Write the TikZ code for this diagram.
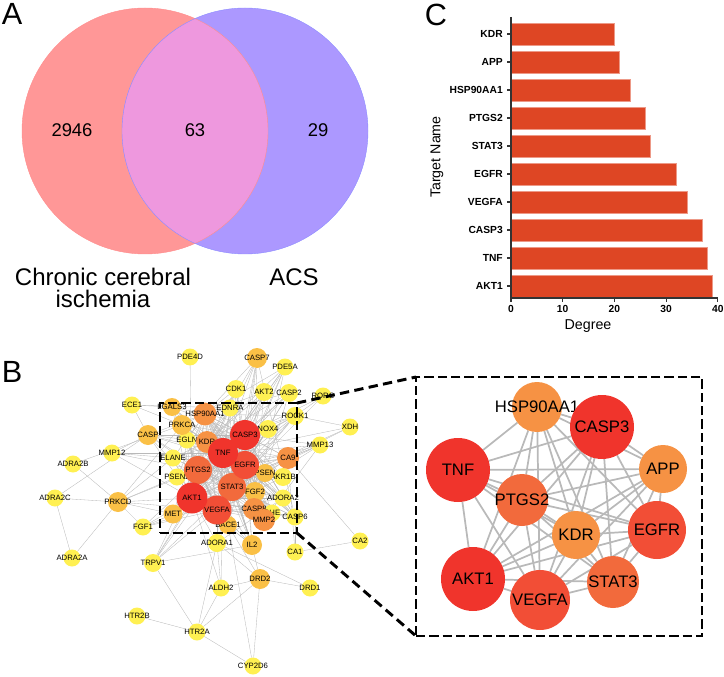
\documentclass[tikz,border=0pt]{standalone}
\usepackage{fontspec}
\setmainfont{Liberation Sans}
\usetikzlibrary{positioning}
\pgfdeclarelayer{edges}
\pgfsetlayers{edges,main}

\definecolor{vennred}{RGB}{255,151,151}
\definecolor{vennblue}{RGB}{172,152,255}
\definecolor{vennmix}{RGB}{238,152,222}
\definecolor{barred}{RGB}{222,70,36}
\definecolor{nred}{RGB}{240,52,44}
\definecolor{nredor}{RGB}{242,78,54}
\definecolor{norred}{RGB}{242,106,60}
\definecolor{norange}{RGB}{246,146,68}
\definecolor{ngold}{RGB}{250,192,70}
\definecolor{nyel}{RGB}{255,240,82}

\tikzset{
  panel/.style={font=\fontsize{23}{26}\selectfont, inner sep=0pt},
  vnum/.style={font=\fontsize{13.8}{16}\selectfont, inner sep=0pt},
  vset/.style={font=\fontsize{18}{16.5}\selectfont, inner sep=0pt, align=center},
  gene/.style={circle, inner sep=0pt, outer sep=0pt, minimum size=#1*0.75pt},
  glabel/.style={font=\fontsize{5.8}{6}\selectfont, inner sep=0pt},
  hublabel/.style={font=\fontsize{12.5}{14}\selectfont, inner sep=0pt},
  ppi/.style={gray!55, line width=0.25pt},
  hubedge/.style={gray!55, line width=1.3pt},
  zoombox/.style={draw, line width=2.2pt, dash pattern=on 7pt off 3pt, inner sep=0pt, outer sep=0pt},
  zoomline/.style={line width=2.2pt, dash pattern=on 7pt off 4pt},
  bar/.style={fill=barred, draw=barred!55!white, line width=0.4pt},
  axis/.style={gray!40!black, line width=0.8pt},
  ticklabel/.style={font=\fontsize{7.7}{9}\selectfont\bfseries, inner sep=0pt},
  axtitle/.style={font=\fontsize{10.7}{12}\selectfont, inner sep=0pt},
}

\begin{document}
\begin{tikzpicture}[x=0.75pt, y=-0.75pt]
  \useasboundingbox (0,0) rectangle (724,677);

  \node[panel] (pa) at (12,14) {A};
  \node[panel] (pb) at (12,372) {B};
  \node[panel] (pc) at (436,15) {C};

  \fill[vennred] (145,131) circle[radius=92.25pt];
  \fill[vennblue] (245,131) circle[radius=92.25pt];
  \begin{scope}
    \clip (145,131) circle[radius=92.25pt];
    \fill[vennmix] (245,131) circle[radius=92.25pt];
  \end{scope}
  \draw[red!45, line width=0.3pt] (145,131) circle[radius=92.25pt];
  \draw[blue!45, line width=0.3pt] (245,131) circle[radius=92.25pt];
  \node[vnum] (only1) at (72,130) {2946};
  \node[vnum] (both) at (195,130) {63};
  \node[vnum] (only2) at (318,130) {29};
  \node[vset] (set1) at (103,288) {Chronic cerebral\\ischemia};
  \node[vset] (set2) at (294,277) {ACS};

  \foreach \g/\v [count=\i from 0] in {KDR/20,APP/21,HSP90AA1/23,PTGS2/26,STAT3/27,EGFR/32,VEGFA/34,CASP3/37,TNF/38,AKT1/39}{
    \draw[bar] (511,34+28*\i-11) rectangle (511+5.17*\v,34+28*\i+11);
    \draw[axis] (507,34+28*\i) -- (511,34+28*\i);
    \node[ticklabel, anchor=east] (bar\i) at (503,34+28*\i) {\g};
  }
  \draw[axis] (511,17) -- (511,298) -- (718,298);
  \foreach \t in {0,10,...,40}{
    \draw[axis] (511+5.17*\t,298) -- (511+5.17*\t,302);
    \node[ticklabel] (tick\t) at (511+5.17*\t,309) {\t};
  }
  \node[axtitle, rotate=90] (ytitle) at (437,157) {Target Name};
  \node[axtitle] (xtitle) at (588,326) {Degree};

  \foreach \nm/\px/\py/\dm/\col/\txt in {
    pde4d/190/357/17/nyel/PDE4D, pde5a/285/367/17/nyel/PDE5A,
    cdk1/236/389/18/nyel/CDK1, akt2/264/392/18/nyel/AKT2,
    casp2/289/393/18/nyel/CASP2, rorc/323/396/17/nyel/RORC,
    ece1/132/405/17/nyel/ECE1, ednra/230/408/17/nyel/EDNRA,
    rock1/295/416/18/nyel/ROCK1, xdh/350/427/17/nyel/XDH,
    nox4/268/429/18/nyel/NOX4, egln/187/440/17/nyel/EGLN,
    mmp13/320/445/17/nyel/MMP13, mmp12/112/453/17/nyel/MMP12,
    elane/173/458/17/nyel/ELANE, adra2b/73/464/17/nyel/ADRA2B,
    psen2/177/477/17/nyel/PSEN2, akr1b1/283/477/18/nyel/AKR1B,
    adra2c/55/498/17/nyel/ADRA2C, adora2a/283/498/17/nyel/ADORA2,
    bche/272/513/17/nyel/CHE, casp6/295/517/17/nyel/CASP6,
    fgf1/143/527/17/nyel/FGF1, ca2/360/541/17/nyel/CA2,
    adora1/217/543/18/nyel/ADORA1, ca1/295/552/17/nyel/CA1,
    adra2a/72/558/17/nyel/ADRA2A, trpv1/153/563/18/nyel/TRPV1,
    aldh2/221/588/17/nyel/ALDH2, drd1/310/588/17/nyel/DRD1,
    htr2b/137/616/17/nyel/HTR2B, htr2a/197/632/17/nyel/HTR2A,
    cyp2d6/253/666/17/nyel/CYP2D6,
    casp7/257/358/20/ngold/CASP7, lgals3/172/407/18/ngold/LGALS3,
    prkca/182/425/20/ngold/PRKCA, casp/148/435/20/ngold/CASP,
    psen1/265/473/18/ngold/PSEN, fgf2/255/492/20/ngold/FGF2,
    prkcd/118/502/20/ngold/PRKCD, met/173/514/19/ngold/MET,
    bace1/228/525/18/ngold/BACE1, il2/252/545/20/ngold/IL2,
    drd2/260/579/20/ngold/DRD2,
    ca9/288/458/22/norange/CA9, casp8/254/509/22/norange/CASP8,
    mmp2/264/520/22/norange/MMP2, hsp/205/414/23/norange/HSP90AA1,
    kdr/207/442/22/norange/KDR,
    ptgs2/198/470/28/norred/PTGS2, stat3/232/487/28/norred/STAT3,
    egfr/245/465/28/nredor/EGFR, vegfa/217/510/29/nredor/VEGFA,
    casp3/245/435/30/nred/CASP3, tnf/223/453/30/nred/TNF,
    akt1/192/498/31/nred/AKT1}
    \node[gene=\dm, fill=\col, label={[glabel]center:\txt}] (\nm) at (\px,\py) {};

  \begin{pgfonlayer}{edges}
    \foreach \a in {hsp,kdr,casp3,tnf,egfr,ptgs2,stat3,akt1,vegfa}
      \foreach \b in {lgals3,prkca,casp,egln,elane,psen2,met,ednra,fgf2,casp8,mmp2,bche,bace1,nox4,psen1,akr1b1,ca9,adora2a,rock1,casp6,il2}
        \draw[ppi] (\a) -- (\b);
    \foreach \a in {casp7,cdk1,akt2,casp2,pde5a}
      \foreach \b in {hsp,casp3,tnf,akt1,egfr,stat3,casp8,kdr}
        \draw[ppi] (\a) -- (\b);
    \foreach \a/\bs in {hsp/{kdr,casp3,tnf,egfr,ptgs2,stat3,akt1,vegfa},
      kdr/{casp3,tnf,egfr,ptgs2,stat3,akt1,vegfa},
      casp3/{tnf,egfr,ptgs2,stat3,akt1,vegfa},
      tnf/{egfr,ptgs2,stat3,akt1,vegfa},
      egfr/{ptgs2,stat3,akt1,vegfa},
      ptgs2/{stat3,akt1,vegfa},
      stat3/{akt1,vegfa},
      akt1/{vegfa},
      pde4d/{akt1},
      ece1/{ednra,casp,lgals3,prkca},
      mmp12/{elane,casp,tnf,ptgs2,akt1},
      adra2b/{prkcd,prkca},
      adra2c/{prkcd,adra2a,casp},
      prkcd/{akt1,met,elane,fgf1,adra2a,prkca,psen2,ptgs2,vegfa},
      fgf1/{fgf2,met,akt1,vegfa,tnf},
      trpv1/{akt1,ptgs2,tnf,vegfa,stat3,htr2a,il2,casp3},
      htr2b/{htr2a},
      htr2a/{drd2,aldh2,cyp2d6,adora1},
      cyp2d6/{drd2,bace1},
      aldh2/{adora1,drd2,akt1,tnf},
      drd1/{drd2,adora1},
      drd2/{adora1,il2,bace1},
      adora1/{akt1,tnf,vegfa,stat3,adora2a},
      il2/{akt1,tnf,stat3,vegfa},
      ca1/{ca2,ca9,casp6},
      ca2/{ca9},
      casp6/{casp3,casp8,casp7},
      xdh/{rock1,ca9,tnf,akt1},
      mmp13/{ca9,tnf,egfr,akt1,stat3,vegfa,mmp2,casp3},
      rorc/{rock1,casp3,stat3}}
      \foreach \b in \bs
        \draw[ppi] (\a) -- (\b);
  \end{pgfonlayer}

  \foreach \nm/\px/\py/\dm/\col/\txt in {
    hspz/537/407/50/norange/HSP90AA1, appz/663/469/48/norange/APP,
    kdrz/576/535/48/norange/KDR, ptgs2z/522/500/52/norred/PTGS2,
    stat3z/613/582/52/norred/STAT3, egfrz/657/530/58/nredor/EGFR,
    tnfz/458/470/64/nred/TNF, casp3z/602/427/64/nred/CASP3,
    akt1z/473/579/64/nred/AKT1, vegfaz/540/600/60/nredor/VEGFA}
    \node[gene=\dm, fill=\col, label={[hublabel]center:\txt}] (\nm) at (\px,\py) {};

  \begin{pgfonlayer}{edges}
    \foreach \a/\bs in {hspz/{appz,kdrz,ptgs2z,stat3z,egfrz,tnfz,casp3z,akt1z,vegfaz},
      appz/{kdrz,ptgs2z,stat3z,egfrz,tnfz,casp3z,akt1z,vegfaz},
      kdrz/{ptgs2z,stat3z,egfrz,tnfz,casp3z,akt1z,vegfaz},
      ptgs2z/{stat3z,egfrz,tnfz,casp3z,akt1z,vegfaz},
      stat3z/{egfrz,tnfz,casp3z,akt1z,vegfaz},
      egfrz/{tnfz,casp3z,akt1z,vegfaz},
      tnfz/{casp3z,akt1z,vegfaz},
      casp3z/{akt1z,vegfaz},
      akt1z/{vegfaz}}
      \foreach \b in \bs
        \draw[hubedge] (\a) -- (\b);
  \end{pgfonlayer}

  \node[zoombox, minimum width=102.75pt, minimum height=97.5pt] (smallbox) at (228.5,468) {};
  \node[zoombox, minimum width=214.5pt, minimum height=194.25pt] (bigbox) at (559,506.5) {};
  \draw[zoomline] (smallbox.north east) -- (bigbox.north west);
  \draw[zoomline] (smallbox.south east) -- (bigbox.south west);
\end{tikzpicture}
\end{document}
